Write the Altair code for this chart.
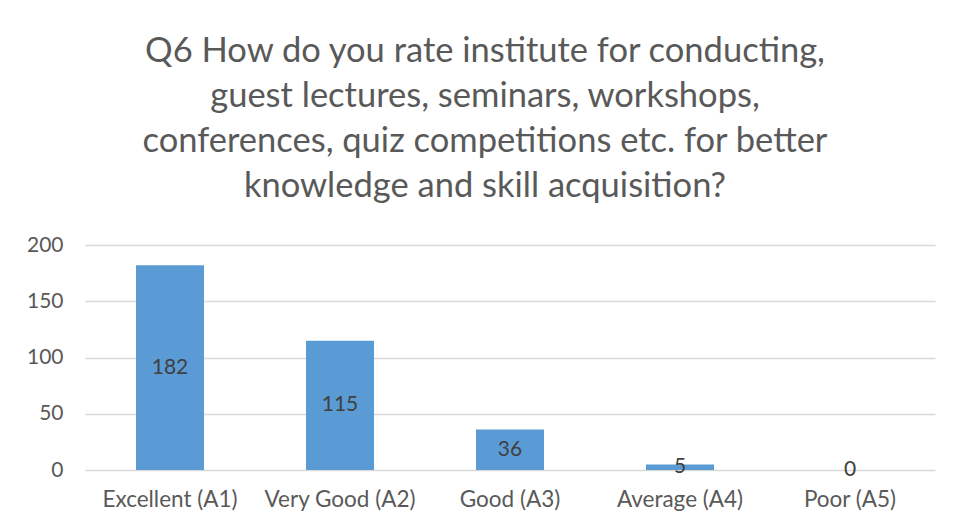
import altair as alt
import pandas as pd

categories = ["Excellent (A1)", "Very Good (A2)", "Good (A3)", "Average (A4)", "Poor (A5)"]
values = [182, 115, 36, 5, 0]
y_ticks = [0, 50, 100, 150, 200]
title_lines = [
    "Q6 How do you rate institute for conducting,",
    "guest lectures, seminars, workshops,",
    "conferences, quiz competitions etc. for better",
    "knowledge and skill acquisition?",
]

df = pd.DataFrame({"cat": categories, "val": values})
df["mid"] = df["val"] / 2

FONT = "Lato"
GRAY = "#595959"

x = alt.X("cat:N", sort=categories, title=None,
          scale=alt.Scale(paddingInner=0.6, paddingOuter=0.3),
          axis=alt.Axis(labelAngle=0, labelFontSize=22.5, labelColor=GRAY, labelFont=FONT,
                        domain=False, ticks=False, labelPadding=18))

bars = alt.Chart(df).mark_bar(color="#5B9BD5").encode(
    x=x,
    y=alt.Y("val:Q", title=None,
            scale=alt.Scale(domain=[0, 200], nice=False),
            axis=alt.Axis(values=y_ticks, labelFontSize=21, labelColor=GRAY, labelFont=FONT,
                          domain=False, ticks=False, labelPadding=22,
                          gridColor="#D9D9D9", gridWidth=1.3)),
)

labels = alt.Chart(df).mark_text(fontSize=21, color="#404040", font=FONT, baseline="middle").encode(
    x=alt.X("cat:N", sort=categories),
    y=alt.Y("mid:Q"),
    text=alt.Text("val:Q"),
)

chart = alt.layer(bars, labels).properties(
    width=850, height=225,
    title=alt.TitleParams(title_lines, fontSize=34.5, font=FONT, fontWeight="normal",
                          color=GRAY, anchor="middle", offset=30, dx=-25, lineHeight=45),
    autosize=alt.AutoSizeParams(type="none"),
    padding={"left": 77, "top": 237, "right": 5, "bottom": 55},
).configure_view(stroke=None)

chart.save("out.html", embed_options={"renderer": "svg", "actions": False})
